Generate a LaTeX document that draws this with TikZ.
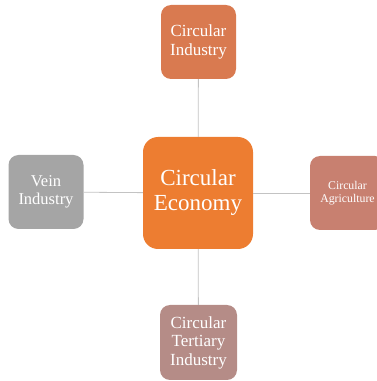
\documentclass[tikz,border=0pt]{standalone}
\usepackage{fontspec}
\setmainfont{Liberation Serif}
\usepackage{tikz}
\usetikzlibrary{positioning}
\usepackage{xcolor}
\definecolor{econorange}{RGB}{237,125,49}
\definecolor{indcolor}{RGB}{217,122,80}
\definecolor{agricolor}{RGB}{200,128,112}
\definecolor{veincolor}{RGB}{165,165,165}
\definecolor{tertcolor}{RGB}{181,140,135}
\definecolor{linkgray}{RGB}{195,195,195}
\tikzset{
	hub/.style={draw=none, rounded corners=15pt, fill=econorange, text=white,
		minimum width=110pt, minimum height=112pt, align=center,
		font=\fontsize{23}{25}\selectfont},
	spoke/.style={draw=none, rounded corners=10pt, text=white,
		minimum width=75pt, minimum height=74pt, align=center,
		font=\fontsize{17}{18.5}\selectfont},
	link/.style={draw=linkgray, line width=0.8pt}
}

\begin{document}
\begin{tikzpicture}[x=1pt, y=1pt]
	\useasboundingbox (0,0) rectangle (376,381);
	\node (econ) [hub] at (198, 188) {Circular\\Economy};
	\node (ind) [spoke, fill=indcolor] at (198.5, 339) {Circular\\Industry};
	\node (agri) [spoke, fill=agricolor, font=\fontsize{11.8}{13}\selectfont] at (347.5, 188) {Circular\\Agriculture};
	\node (vein) [spoke, fill=veincolor, font=\fontsize{16.5}{18}\selectfont] at (46, 189) {Vein\\Industry};
	\node (tert) [spoke, fill=tertcolor, minimum width=77pt, minimum height=75pt] at (198.5, 38.5) {Circular\\Tertiary\\Industry};
	\draw[link] (econ) -- (ind);
	\draw[link] (econ) -- (agri);
	\draw[link] (econ) -- (vein);
	\draw[link] (econ) -- (tert);
\end{tikzpicture}
\end{document}
